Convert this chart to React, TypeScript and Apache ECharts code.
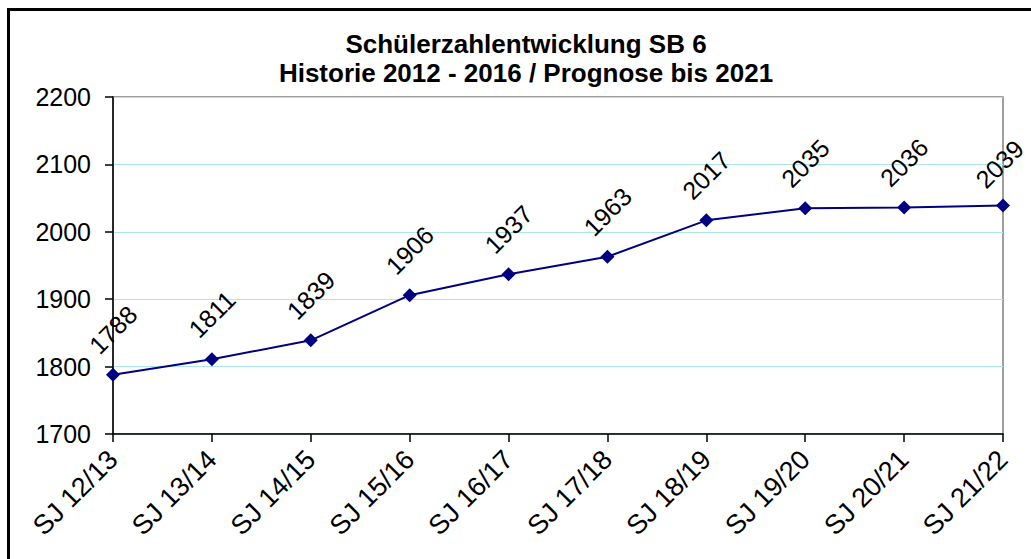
import React, { useEffect, useRef } from "react";
import * as echarts from "echarts";

const categories = [
  "SJ 12/13",
  "SJ 13/14",
  "SJ 14/15",
  "SJ 15/16",
  "SJ 16/17",
  "SJ 17/18",
  "SJ 18/19",
  "SJ 19/20",
  "SJ 20/21",
  "SJ 21/22",
];
const values = [1788, 1811, 1839, 1906, 1937, 1963, 2017, 2035, 2036, 2039];
const titleLines = ["Schülerzahlentwicklung SB 6", "Historie 2012 - 2016 / Prognose bis 2021"];

const FONT = "Arial, 'Liberation Sans', sans-serif";

export default function App() {
  const ref = useRef<HTMLDivElement>(null);
  useEffect(() => {
    if (!ref.current) return;
    const chart = echarts.init(ref.current, undefined, { renderer: "svg" });
    const seriesData = values.map((v, i) =>
      i === values.length - 1 ? { value: v, label: { offset: [-5, 0] } } : v
    );
    chart.setOption({
      animation: false,
      backgroundColor: "#ffffff",
      textStyle: { fontFamily: FONT },
      grid: {
        left: 113,
        right: 28,
        top: 97,
        bottom: 125,
        show: true,
        borderColor: "#808080",
        borderWidth: 1.5,
        backgroundColor: "transparent",
      },
      graphic: [
        { type: "rect", shape: { x: 7, y: 8, width: 1024, height: 3 }, style: { fill: "#000" }, z: 100 },
        { type: "rect", shape: { x: 7, y: 8, width: 3, height: 551 }, style: { fill: "#000" }, z: 100 },
        {
          type: "text",
          x: 526,
          y: 58,
          style: {
            text: titleLines.join("\n"),
            fontSize: 26,
            lineHeight: 29,
            fontWeight: "bold",
            fontFamily: FONT,
            fill: "#000",
            align: "center",
            verticalAlign: "middle",
          },
        },
      ],
      xAxis: {
        type: "category",
        data: categories,
        boundaryGap: false,
        axisLine: { show: true, lineStyle: { color: "#000", width: 1.5 } },
        axisTick: { show: true, alignWithLabel: true, length: 8, lineStyle: { color: "#000", width: 1.5 } },
        axisLabel: {
          rotate: 45,
          fontSize: 27,
          color: "#000",
          margin: 21,
          fontFamily: FONT,
          interval: 0,
        },
        splitLine: { show: false },
      },
      yAxis: {
        type: "value",
        min: 1700,
        max: 2200,
        interval: 100,
        axisLine: { show: true, lineStyle: { color: "#000", width: 1.5 } },
        axisTick: { show: true, length: 8, lineStyle: { color: "#000", width: 1.5 } },
        axisLabel: {
          fontSize: 25,
          color: "#000",
          margin: 22,
          fontFamily: FONT,
          formatter: (v: number) => String(v),
        },
        splitLine: { show: true, lineStyle: { color: "#aee6e6", width: 1 } },
      },
      series: [
        {
          type: "line",
          data: seriesData,
          symbol: "diamond",
          symbolSize: 14,
          lineStyle: { color: "#000080", width: 2 },
          itemStyle: { color: "#000080" },
          label: {
            show: true,
            position: "top",
            distance: 38,
            rotate: 45,
            align: "center",
            verticalAlign: "middle",
            fontSize: 25,
            color: "#000",
            fontFamily: FONT,
          },
        },
      ],
    });
    return () => chart.dispose();
  }, []);
  return (
    <div
      ref={ref}
      style={{ position: "fixed", left: 0, top: 0, width: 1031, height: 559, background: "#fff" }}
    />
  );
}
